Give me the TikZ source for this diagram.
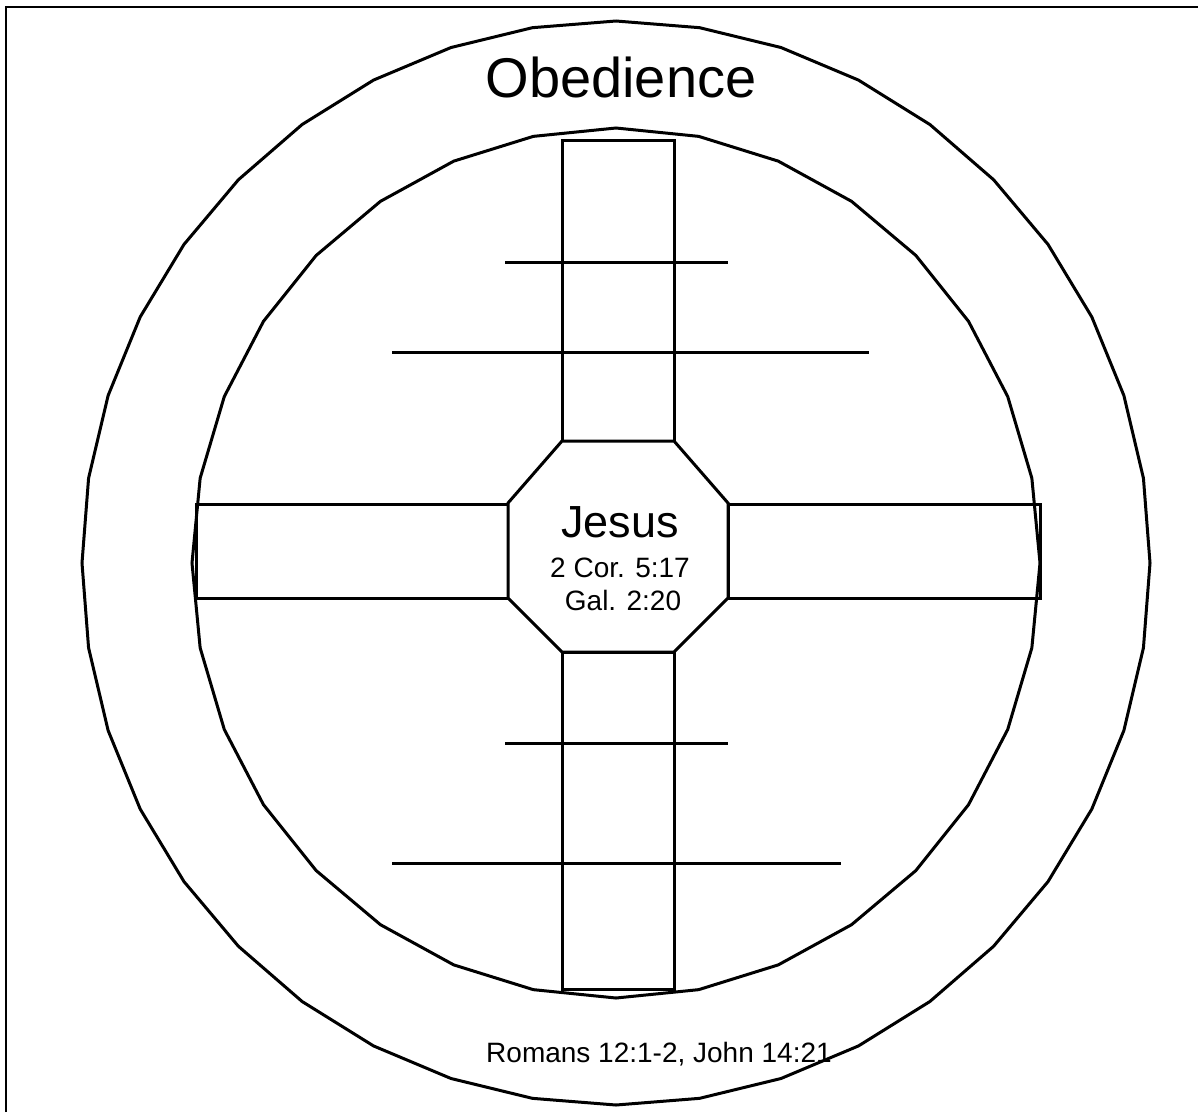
\documentclass[tikz,border=0pt]{standalone}
\usepackage{fontspec}
\setmainfont{Liberation Sans}
\usepackage{tikz}
\usetikzlibrary{positioning}

\begin{document}
\begin{tikzpicture}[x=1pt, y=-1pt, line join=miter,
		ring/.style={draw=black, line width=3pt},
		bar/.style={draw=black, line width=3pt},
		rung/.style={draw=black, line width=3pt},
		headline/.style={font=\fontsize{56}{60}\selectfont, anchor=base},
		centretext/.style={font=\fontsize{45}{50}\selectfont, anchor=base},
		verse/.style={font=\fontsize{28}{32}\selectfont, anchor=base, inner sep=0pt}]
		
		% Rahmen
		\useasboundingbox (0,0) rectangle (1198,1112);
		\draw[line width=2pt] (6,1112) -- (6,7) -- (1198,7);
		
		% Ringe
		\draw[ring] plot[samples=41, domain=0:360, variable=\t] ({616+534*sin(\t)}, {563-542*cos(\t)}) -- cycle;
		\draw[ring] plot[samples=33, domain=0:360, variable=\t] ({616+424*sin(\t)}, {563-435*cos(\t)}) -- cycle;
		
		% Balken des Kreuzes
		\draw[bar] (562,140) rectangle (674,441);
		\draw[bar] (562,652) rectangle (674,989);
		\draw[bar] (196,504) rectangle (508,598);
		\draw[bar] (728,504) rectangle (1040,598);
		
		% Achteck in der Mitte
		\draw[bar, fill=white] (562,441) -- (674,441) -- (728,503) -- (728,598)
			-- (674,652) -- (562,652) -- (508,598) -- (508,503) -- cycle;
		
		% Querstriche
		\draw[rung] (505,262) -- (728,262);
		\draw[rung] (392,352) -- (869,352);
		\draw[rung] (505,743) -- (728,743);
		\draw[rung] (392,863) -- (841,863);
		
		% Texte
		\node[headline] (obed) at (621,97) {Obedience};
		\node[centretext] (jesus) at (620,537) {Jesus};
		\node[verse] (cor) at (620,577) {2 Cor. 5:17};
		\node[verse] (gal) at (623,610) {Gal. 2:20};
		\node[verse] (rom) at (659,1062) {Romans 12:1-2, John 14:21};
	\end{tikzpicture}
\end{document}
